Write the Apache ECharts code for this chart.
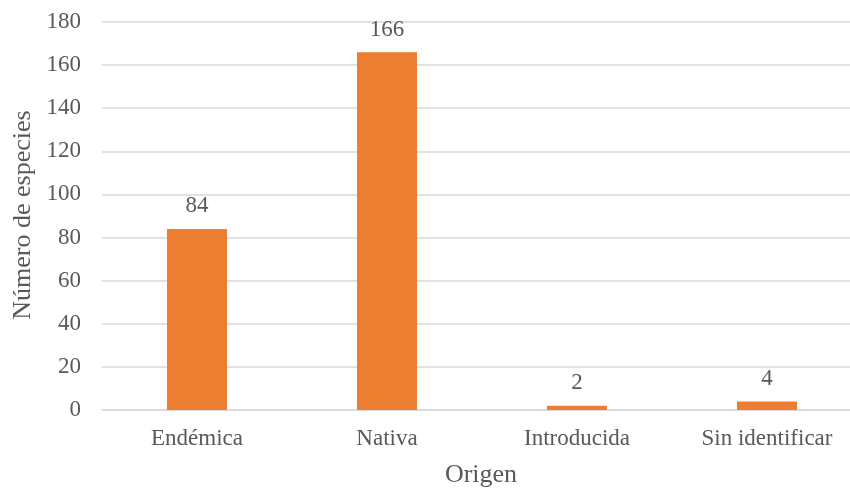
<!DOCTYPE html>
<html>
<head>
<meta charset="utf-8">
<script src="https://cdn.jsdelivr.net/npm/echarts@6/dist/echarts.min.js"></script>
<style>
  html, body { margin: 0; padding: 0; background: #fff; }
  #chart { width: 850px; height: 488px; }
</style>
</head>
<body>
<div id="chart"></div>
<script>
const categories = ['Endémica', 'Nativa', 'Introducida', 'Sin identificar'];
const especies = [84, 166, 2, 4];

const font = '"Liberation Serif", "Times New Roman", serif';
const textColor = '#595959';

const chart = echarts.init(document.getElementById('chart'));
chart.setOption({
  animation: false,
  textStyle: { fontFamily: font },
  grid: { left: 102, top: 22, width: 760, height: 388, outerBoundsMode: 'none', containLabel: false },
  xAxis: {
    type: 'category',
    data: categories,
    axisLine: { lineStyle: { color: '#d9d9d9', width: 1.5 } },
    axisTick: { show: false },
    axisLabel: { color: textColor, fontSize: 23, fontFamily: font, margin: 17 }
  },
  yAxis: {
    type: 'value',
    min: 0,
    max: 180,
    interval: 20,
    axisLine: { show: false },
    axisTick: { show: false },
    axisLabel: { color: textColor, fontSize: 23, fontFamily: font, margin: 21 },
    splitLine: { lineStyle: { color: '#d9d9d9', width: 1.5 } }
  },
  graphic: [{
    type: 'text',
    x: 481,
    y: 462,
    style: { text: 'Origen', fill: textColor, font: '26px ' + font, align: 'center', verticalAlign: 'top' }
  }, {
    type: 'text',
    x: 23,
    y: 215,
    rotation: Math.PI / 2,
    style: { text: 'Número de especies', fill: textColor, font: '26px ' + font, align: 'center', verticalAlign: 'middle' }
  }],
  series: [{
    type: 'bar',
    data: especies,
    barWidth: 60,
    itemStyle: { color: '#ED7D31' },
    label: {
      show: true,
      position: 'top',
      distance: 11,
      color: textColor,
      fontSize: 23,
      fontFamily: font
    }
  }]
});
</script>
</body>
</html>
